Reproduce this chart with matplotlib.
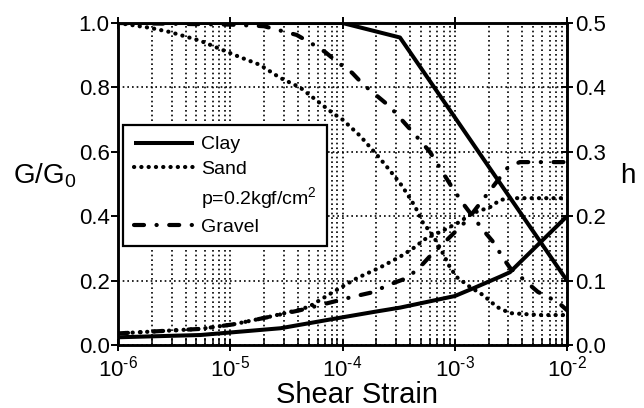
import matplotlib
matplotlib.use("Agg")
import matplotlib.pyplot as plt
from matplotlib.lines import Line2D
from matplotlib.ticker import FixedLocator, LogLocator, NullFormatter

plt.rcParams["font.family"] = ["Liberation Sans", "DejaVu Sans"]
plt.rcParams["mathtext.fontset"] = "custom"
plt.rcParams["mathtext.rm"] = "Liberation Sans"
plt.rcParams["mathtext.it"] = "Liberation Sans:italic"
plt.rcParams["mathtext.bf"] = "Liberation Sans:bold"

# ---- shear modulus ratio G/G0 ----
clay_g_strain = [1e-6, 1e-4, 3.25e-4, 1e-2]
clay_g = [1.0, 1.0, 0.955, 0.2]

sand_g_strain = [1e-6, 1.93e-6, 2.9e-6, 5.4e-6, 1.22e-5, 1.84e-5, 2.77e-5, 4.18e-5,
                 8.2e-5, 1e-4, 1.43e-4, 2.03e-4, 2.49e-4, 3.25e-4, 3.76e-4, 4.43e-4,
                 5.2e-4, 6.4e-4, 7.7e-4, 9.1e-4, 1.05e-3, 1.37e-3, 1.79e-3, 2.38e-3,
                 3.1e-3, 5.7e-3, 1e-2]
sand_g = [1.0, 0.985, 0.972, 0.945, 0.894, 0.87, 0.83, 0.80,
          0.72, 0.70, 0.65, 0.59, 0.553, 0.503, 0.47, 0.43,
          0.38, 0.34, 0.29, 0.24, 0.21, 0.18, 0.155, 0.118,
          0.099, 0.093, 0.093]

gravel_g_strain = [1e-6, 1e-5, 2e-5, 3.9e-5, 5.1e-5, 7.0e-5, 8.9e-5, 1.22e-4, 1.52e-4,
                   2.65e-4, 4.25e-4, 6.0e-4, 9.45e-4, 1.18e-3, 1.79e-3, 2.2e-3, 2.7e-3,
                   3.1e-3, 5.5e-3, 8.3e-3, 1e-2]
gravel_g = [1.0, 0.995, 0.99, 0.963, 0.94, 0.91, 0.88, 0.845, 0.81,
            0.74, 0.66, 0.60, 0.49, 0.44, 0.357, 0.32, 0.27,
            0.24, 0.165, 0.133, 0.108]

# ---- damping ratio h ----
clay_h_strain = [1e-6, 5.4e-6, 2.8e-5, 1e-4, 2e-4, 3.25e-4, 1e-3, 1.46e-3, 2.53e-3, 3.1e-3, 1e-2]
clay_h = [0.012, 0.0155, 0.026, 0.043, 0.052, 0.058, 0.076, 0.088, 0.106, 0.113, 0.2]

sand_h_strain = [1e-6, 5.4e-6, 1.06e-5, 2.13e-5, 4.18e-5, 5.1e-5, 8.2e-5, 1.35e-4, 2.14e-4,
                 3.25e-4, 4.25e-4, 5.6e-4, 7.3e-4, 1.05e-3, 1.46e-3, 2.06e-3, 2.53e-3,
                 3.1e-3, 1e-2]
sand_h = [0.018, 0.025, 0.032, 0.043, 0.055, 0.06, 0.082, 0.104, 0.12,
          0.137, 0.15, 0.166, 0.175, 0.189, 0.205, 0.214, 0.225,
          0.228, 0.228]

gravel_h_strain = [1e-6, 5.4e-6, 1.06e-5, 2.13e-5, 4.18e-5, 8.2e-5, 1.24e-4, 1.87e-4, 2.54e-4,
                   3.76e-4, 4.9e-4, 6.4e-4, 8.5e-4, 1.29e-3, 1.68e-3, 2.06e-3, 2.98e-3,
                   3.8e-3, 1e-2]
gravel_h = [0.018, 0.025, 0.032, 0.043, 0.054, 0.067, 0.075, 0.082, 0.093,
            0.104, 0.121, 0.143, 0.163, 0.194, 0.22, 0.24, 0.276,
            0.284, 0.284]

x_ticks = [1e-6, 1e-5, 1e-4, 1e-3, 1e-2]
x_exponents = ["-6", "-5", "-4", "-3", "-2"]
g_ticks = [0.0, 0.2, 0.4, 0.6, 0.8, 1.0]
h_ticks = [0.0, 0.1, 0.2, 0.3, 0.4, 0.5]

x_ticklabels = [r"$\mathregular{10^{\text{%s}}}$" % e for e in x_exponents]

# line styles
solid_kw = dict(color="black", lw=2.9, ls="-", solid_capstyle="butt")
dot_kw = dict(color="black", lw=3.0, ls=(0, (0.05, 1.7)), dash_capstyle="round")
dashdot_kw = dict(color="black", lw=3.0, ls=(0, (2.4, 3.0, 0.05, 3.0)), dash_capstyle="round")

fig = plt.figure(figsize=(6.44, 4.08), dpi=100)
ax = fig.add_axes([118 / 644, 1 - 345 / 408, 449 / 644, 322 / 408])
ax.set_xscale("log")
ax.set_xlim(1e-6, 1e-2)
ax.set_ylim(0, 1.0)

ax.plot(clay_g_strain, clay_g, **solid_kw)
ax.plot(sand_g_strain, sand_g, **dot_kw)
ax.plot(gravel_g_strain, gravel_g, **dashdot_kw)

grid_ls = (0, (1, 1.8))
ax.grid(True, which="both", axis="x", color="black", lw=1.2, ls=grid_ls)
ax.grid(True, which="major", axis="y", color="black", lw=1.2, ls=grid_ls)

ax.xaxis.set_major_locator(FixedLocator(x_ticks))
ax.set_xticklabels(x_ticklabels)
ax.xaxis.set_minor_locator(LogLocator(base=10, subs=range(2, 10), numticks=20))
ax.xaxis.set_minor_formatter(NullFormatter())
ax.set_yticks(g_ticks)
ax.set_yticklabels([f"{v:.1f}" for v in g_ticks])

ax.tick_params(axis="x", which="major", direction="inout", length=9, width=1.4,
               labelsize=16, pad=3, top=True)
ax.tick_params(axis="x", which="minor", direction="in", length=5, width=1.1, top=False)
ax.tick_params(axis="y", which="major", direction="out", length=5, width=1.4,
               labelsize=16, pad=1)
for s in ax.spines.values():
    s.set_linewidth(1.8)

ax2 = ax.twinx()
ax2.set_ylim(0, 0.5)
ax2.plot(clay_h_strain, clay_h, **solid_kw)
ax2.plot(sand_h_strain, sand_h, **dot_kw)
ax2.plot(gravel_h_strain, gravel_h, **dashdot_kw)
ax2.set_yticks(h_ticks)
ax2.set_yticklabels([f"{v:.1f}" for v in h_ticks])
ax2.tick_params(axis="y", direction="inout", length=8, width=1.4, labelsize=16, pad=2)
for s in ax2.spines.values():
    s.set_linewidth(1.8)

handles = [
    Line2D([], [], **solid_kw),
    Line2D([], [], **dot_kw),
    Line2D([], [], color="none"),
    Line2D([], [], **dashdot_kw),
]
labels = ["Clay", "Sand", r"p=0.2kgf/cm$\mathregular{^2}$", "Gravel"]
leg = ax2.legend(handles, labels, loc="upper left", bbox_to_anchor=(0.011, 0.683),
                 fontsize=14, handlelength=3.1, handletextpad=0.35,
                 labelspacing=0.36, borderpad=0.55, borderaxespad=0.0,
                 fancybox=False, framealpha=1.0, edgecolor="black", facecolor="white")
leg.get_frame().set_linewidth(1.6)
leg.set_zorder(10)

fig.text(13 / 644, 1 - 176 / 408, r"G/G$\mathregular{_0}$", fontsize=20, va="center", ha="left")
fig.text(620 / 644, 1 - 176 / 408, "h", fontsize=20, va="center", ha="left")
fig.text(357 / 644, 1 - 403 / 408, "Shear Strain", fontsize=21, va="baseline", ha="center")

fig.savefig("out.png", dpi=100)
